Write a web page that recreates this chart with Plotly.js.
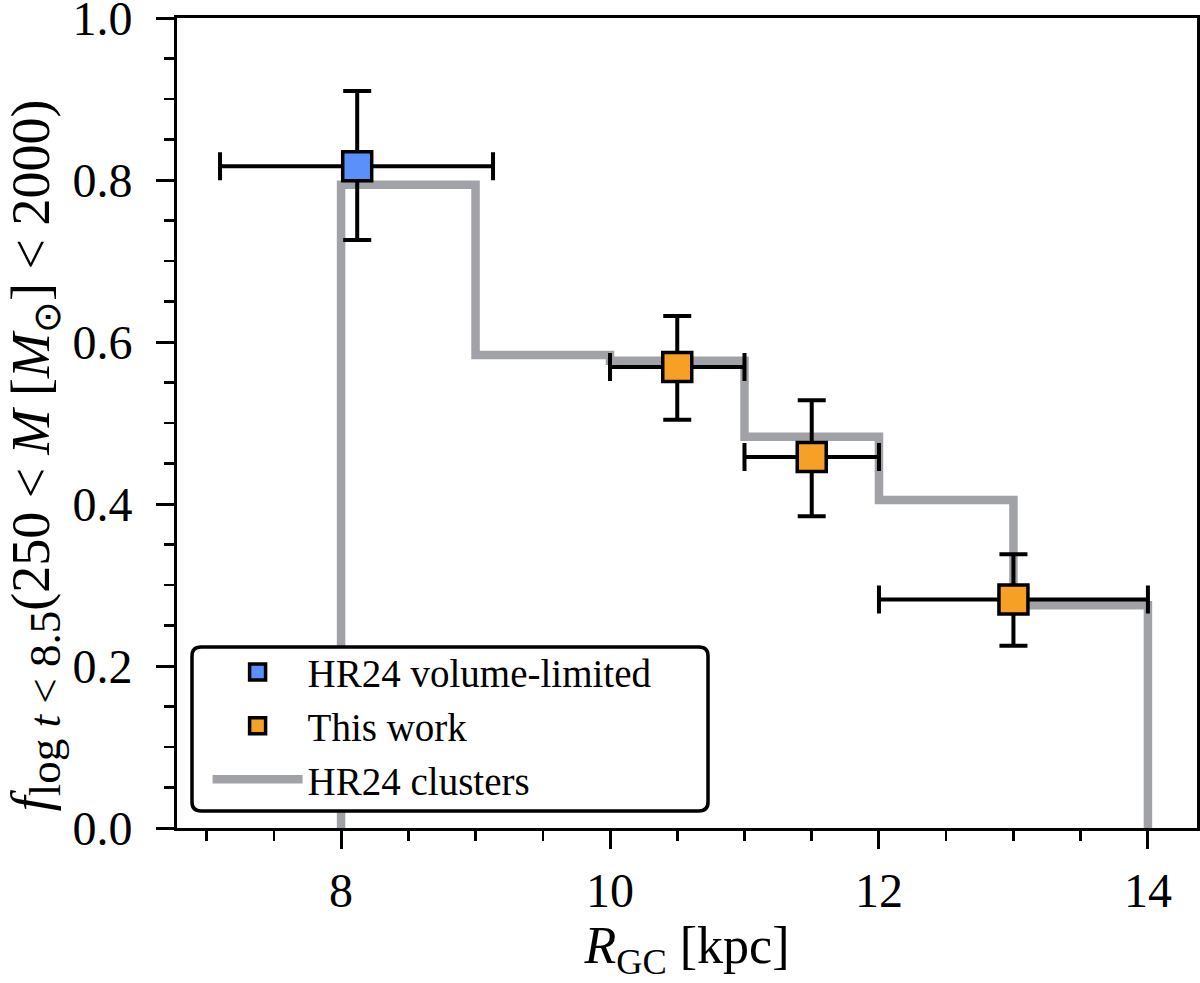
<!DOCTYPE html>
<html>
<head>
<meta charset="utf-8">
<script src="https://cdn.plot.ly/plotly-3.0.1.min.js"></script>
<style>
  html, body { margin: 0; padding: 0; background: #fff; }
  #plot { width: 1200px; height: 983px; }
</style>
</head>
<body>
<div id="plot"></div>
<script>
// HR24 cluster fractions, step histogram over galactocentric radius bins
let binEdges = [8, 9, 10, 11, 12, 13, 14];
let binFrac = [0.794, 0.584, 0.577, 0.483, 0.405, 0.275];

// HR24 volume-limited sample
let volR = [8.12];
let volRlo = [7.10];
let volRhi = [9.13];
let volF = [0.817];
let volFlo = [0.726];
let volFhi = [0.910];

// this work
let workR = [10.5, 11.5, 13.0];
let workRlo = [10, 11, 12];
let workRhi = [11, 12, 14];
let workF = [0.569, 0.458, 0.282];
let workFlo = [0.504, 0.385, 0.225];
let workFhi = [0.632, 0.528, 0.338];

let xTicks = [8, 10, 12, 14];
let yTicks = [0.0, 0.2, 0.4, 0.6, 0.8, 1.0];

let colors = {"vol": '#5b8ff9', "work": '#f6a026', "hr24": '#a1a1a8'};
let font = "Liberation Serif";

function diff(a, b){
    return a.map((v, i) => v - b[i]);
}

// step outline: rise at first edge, flat over each bin, drop at the last edge
var sx = [binEdges[0]], sy = [0];
binFrac.forEach((f, i) => { sx.push(binEdges[i]); sy.push(f); });
sx.push(binEdges[binEdges.length - 1]); sy.push(binFrac[binFrac.length - 1]);
sx.push(binEdges[binEdges.length - 1]); sy.push(0);

function errPoints(name, x, xlo, xhi, y, ylo, yhi, color, rank){
    return {
        type: 'scatter', mode: 'markers', name: name, legendrank: rank,
        x: x, y: y,
        error_x: {type: 'data', symmetric: false, array: diff(xhi, x), arrayminus: diff(x, xlo),
                  color: '#000', thickness: 4, width: 14},
        error_y: {type: 'data', symmetric: false, array: diff(yhi, y), arrayminus: diff(y, ylo),
                  color: '#000', thickness: 4, width: 14},
        marker: {symbol: 'square', size: 29, color: color, line: {color: '#000', width: 3.5}},
        cliponaxis: false,
    };
}

var data = [
    {type: 'scatter', mode: 'lines', name: 'HR24 clusters', legendrank: 3,
     x: sx, y: sy, line: {shape: 'hv', color: colors.hr24, width: 8.5}},
    errPoints('HR24 volume-limited', volR, volRlo, volRhi, volF, volFlo, volFhi, colors.vol, 1),
    errPoints('This work', workR, workRlo, workRhi, workF, workFlo, workFhi, colors.work, 2),
];

// legend frame with rounded corners, in paper units
var plotW = 1020, plotH = 810;
function roundBox(x0, y0, x1, y1, r){
    var rx = r / plotW, ry = r / plotH;
    return 'M' + (x0 + rx) + ',' + y1 +
        ' L' + (x1 - rx) + ',' + y1 + ' Q' + x1 + ',' + y1 + ' ' + x1 + ',' + (y1 - ry) +
        ' L' + x1 + ',' + (y0 + ry) + ' Q' + x1 + ',' + y0 + ' ' + (x1 - rx) + ',' + y0 +
        ' L' + (x0 + rx) + ',' + y0 + ' Q' + x0 + ',' + y0 + ' ' + x0 + ',' + (y0 + ry) +
        ' L' + x0 + ',' + (y1 - ry) + ' Q' + x0 + ',' + y1 + ' ' + (x0 + rx) + ',' + y1 + ' Z';
}

// larger script-style subscript, as in the original mathtext label
var yTitle = '<i>f</i><span style="font-size:45px;baseline-shift:-11px">log <i>t</i> &lt; 8.5</span>' +
    '(250 &lt; <i>M</i> [<i>M</i><sub>⊙</sub>] &lt; 2000)&#8195;&#8201;';

var axisCommon = {
    showline: true, mirror: true, linecolor: '#000', linewidth: 3,
    ticks: 'outside', ticklen: 18, tickwidth: 3, tickcolor: '#000',
    showgrid: false, zeroline: false, ticklabeloverflow: 'allow',
    tickfont: {family: font, size: 48, color: '#000'},
};

var layout = {
    width: 1200, height: 983,
    margin: {l: 177, r: 3, t: 18, b: 155},
    paper_bgcolor: '#fff', plot_bgcolor: '#fff',
    font: {family: font, color: '#000'},
    showlegend: true,
    xaxis: Object.assign({}, axisCommon, {
        range: [6.78, 14.365], tickmode: 'array', tickvals: xTicks,
        minor: {ticks: 'outside', ticklen: 10, tickwidth: 2.5, tickcolor: '#000', dtick: 0.5, tick0: 0, showgrid: false},
        title: {text: '<i>R</i><sub>GC</sub> [kpc]', font: {family: font, size: 52}, standoff: 12},
    }),
    yaxis: Object.assign({}, axisCommon, {
        range: [0, 1], tickmode: 'array', tickvals: yTicks, tickformat: '.1f',
        ticklabelstandoff: 14,
        minor: {ticks: 'outside', ticklen: 10, tickwidth: 2.5, tickcolor: '#000', dtick: 0.05, tick0: 0, showgrid: false},
        title: {text: yTitle, font: {family: font, size: 54}, standoff: 6},
    }),
    legend: {
        x: 0.03, y: 0.232, xanchor: 'left', yanchor: 'top',
        bgcolor: 'rgba(0,0,0,0)', borderwidth: 0,
        font: {family: font, size: 39, color: '#000'},
        itemwidth: 90, tracegroupgap: 0,
    },
    shapes: [{
        type: 'path', xref: 'paper', yref: 'paper', layer: 'above',
        path: roundBox(0.0147, 0.021, 0.5206, 0.2235, 9),
        fillcolor: '#fff', line: {color: '#000', width: 3.5},
    }],
    hovermode: false,
};

Plotly.newPlot('plot', data, layout, {displayModeBar: false, staticPlot: true});
</script>
</body>
</html>
